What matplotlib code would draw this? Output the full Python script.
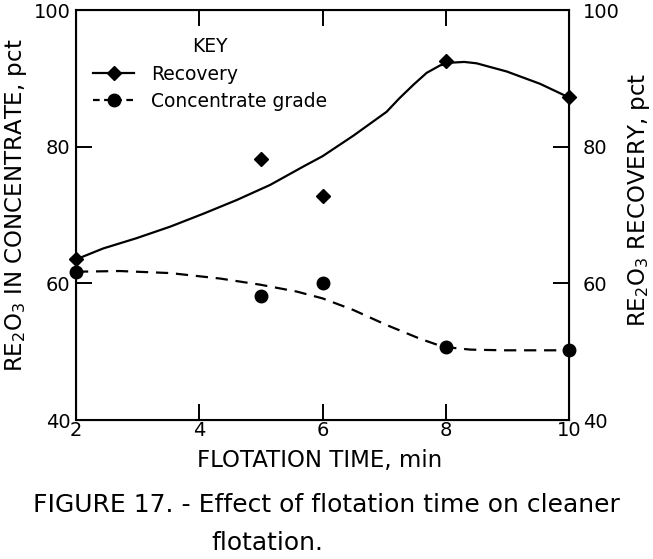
import matplotlib
matplotlib.use("Agg")
import matplotlib.pyplot as plt
from matplotlib.lines import Line2D

# Measured data points
time_min = [2, 5, 6, 8, 10]
recovery = [63.5, 78.2, 72.8, 92.5, 87.2]
grade = [61.6, 58.1, 60.0, 50.7, 50.2]

# Fitted curves
rec_curve_x = [2.0, 2.44, 2.98, 3.53, 4.07, 4.61, 5.15, 5.69, 6.0, 6.5, 7.04, 7.25, 7.48,
               7.69, 7.91, 8.1, 8.3, 8.5, 8.99, 9.53, 10.0]
rec_curve_y = [63.5, 65.1, 66.6, 68.3, 70.2, 72.2, 74.4, 77.1, 78.6, 81.6, 85.1, 87.1, 89.1,
               90.8, 91.9, 92.3, 92.4, 92.2, 91.0, 89.2, 87.2]
gr_curve_x = [2.0, 2.71, 3.53, 4.34, 4.99, 5.58, 6.0, 6.5, 7.04, 7.58, 7.96, 8.4,
              8.94, 9.75, 10.0]
gr_curve_y = [61.7, 61.8, 61.5, 60.7, 59.8, 58.8, 57.8, 56.1, 53.9, 51.9, 50.7, 50.3,
              50.2, 50.2, 50.2]

x_ticks = [2, 4, 6, 8, 10]
y_ticks = [40, 60, 80, 100]

plt.rcParams['font.family'] = ['DejaVu Sans']
W, H = 653, 559
fig = plt.figure(figsize=(W / 100, H / 100), dpi=100)
ax = fig.add_axes([76 / W, 1 - 420 / H, (569 - 76) / W, (420 - 10) / H])

lw = 1.6
ax.plot(rec_curve_x, rec_curve_y, color='black', lw=lw, solid_capstyle='round',
        solid_joinstyle='round')
ax.plot(gr_curve_x, gr_curve_y, color='black', lw=lw, ls=(0, (5.5, 3.5)))
ax.plot(time_min, recovery, ls='none', marker='D', ms=7.5, color='black', clip_on=False, zorder=5)
ax.plot(time_min, grade, ls='none', marker='o', ms=9, color='black', clip_on=False, zorder=5)

ax.set_xlim(2, 10)
ax.set_ylim(40, 100)
ax.set_xticks(x_ticks)
ax.set_yticks(y_ticks)
ax.tick_params(axis='both', direction='in', length=11.5, width=1.4, labelsize=14)
ax.tick_params(axis='x', top=True, pad=1)
ax.tick_params(axis='y', pad=4)
for s in ax.spines.values():
    s.set_linewidth(1.5)

ax2 = ax.twinx()
ax2.set_ylim(40, 100)
ax2.set_yticks(y_ticks)
ax2.tick_params(direction='in', length=11.5, width=1.4, labelsize=14, pad=10)

fig.text(320 / W, 1 - 460 / H, 'FLOTATION TIME, min', fontsize=16.5,
         ha='center', va='center')
fig.text(16 / W, 1 - 205 / H, 'RE$_2$O$_3$ IN CONCENTRATE, pct', fontsize=16.5,
         rotation=90, ha='center', va='center')
fig.text(639 / W, 1 - 200 / H, 'RE$_2$O$_3$ RECOVERY, pct', fontsize=16.5,
         rotation=90, ha='center', va='center')

handles = [
    Line2D([], [], color='black', lw=lw, marker='D', ms=7.5),
    Line2D([], [], color='black', lw=lw, ls=(0, (3, 2)), marker='o', ms=9),
]
leg = ax.legend(handles, ['Recovery', 'Concentrate grade'], title='KEY',
                loc='upper left', bbox_to_anchor=(0.0, 0.975), frameon=False,
                fontsize=13.5, title_fontsize=13.5, handlelength=2.2,
                handletextpad=0.9, labelspacing=0.45)

fig.text(326 / W, 1 - 512 / H, 'FIGURE 17. - Effect of flotation time on cleaner',
         ha='center', va='baseline', fontsize=18)
fig.text(211 / W, 1 - 550 / H, 'flotation.', ha='left', va='baseline', fontsize=18)

fig.savefig('out.png', dpi=100)
